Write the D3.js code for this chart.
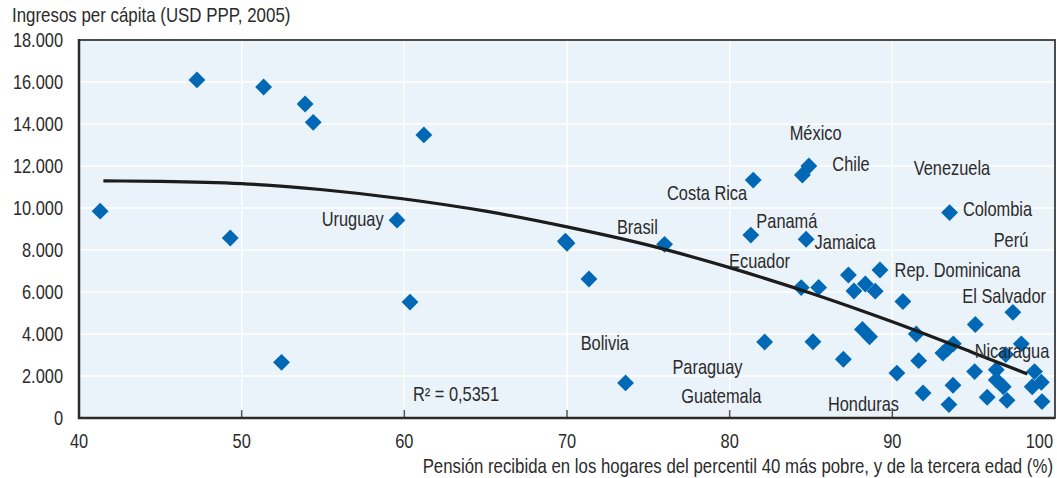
<!DOCTYPE html>
<html>
<head>
<meta charset="utf-8">
<script src="https://cdn.jsdelivr.net/npm/d3@7"></script>
<style>
  html, body { margin: 0; padding: 0; background: #ffffff; }
  svg { display: block; }
  text { font-family: "Liberation Sans", Arial, sans-serif; font-size: 20px; fill: #2b2b2b; }
</style>
</head>
<body>
<svg id="chart" width="1057" height="478"></svg>
<script>
// pension coverage (%) vs income per capita (USD PPP 2005)
var pension = [41.3, 47.25, 49.3, 51.35, 52.45, 53.9, 54.4, 59.55, 60.35, 61.2,
  69.9, 70.0, 71.35, 73.6, 76.0, 81.45, 81.3, 82.15, 84.47, 84.87,
  84.7, 93.52, 89.24, 87.3, 84.4, 85.47, 87.64, 88.34, 88.95, 90.65,
  97.41, 95.1, 88.16, 88.6, 91.47, 85.12, 86.99, 91.62, 90.28, 93.11,
  93.4, 93.75, 97.93, 96.97, 98.74, 96.39, 95.06, 96.39, 96.82, 98.6,
  99.16, 93.73, 91.89, 95.83, 97.05, 93.48, 99.2];
var income = [9850, 16100, 8570, 15760, 2650, 14950, 14080, 9420, 5520, 13480,
  8420, 8320, 6620, 1670, 8270, 11330, 8710, 3620, 11570, 12000,
  8510, 9780, 7050, 6810, 6210, 6220, 6050, 6380, 6040, 5550,
  5030, 4450, 4220, 3870, 4000, 3630, 2800, 2730, 2140, 3090,
  3300, 3530, 3530, 3020, 2210, 2300, 2210, 1810, 1490, 1490,
  1700, 1560, 1190, 990, 840, 640, 780];

// trend line
var trendX = [41.5, 45, 50, 55, 60, 65, 70, 75, 80, 85, 90, 95, 98.3];
var trendY = [11290, 11270, 11160, 10870, 10430, 9850, 9100, 8230, 7160, 5940, 4580, 3100, 2100];

// country labels, anchored in data units (left edge, middle)
var labelNames = ["Uruguay", "Brasil", "Costa Rica", "México", "Chile", "Venezuela", "Colombia",
  "Panamá", "Jamaica", "Perú", "Ecuador", "Rep. Dominicana", "El Salvador", "Nicaragua",
  "Honduras", "Guatemala", "Paraguay", "Bolivia", "R² = 0,5351"];
var labelX = [54.92, 73.07, 76.15, 83.69, 86.31, 91.31, 94.34, 81.64, 85.22, 96.23,
  79.96, 90.14, 94.30, 95.06, 86.04, 77.03, 76.48, 70.84, 60.53];
var labelY = [9476, 9110, 10700, 13557, 12081, 11919, 9938, 9395, 8367, 8476,
  7491, 7048, 5810, 3190, 652, 1048, 2443, 3586, 1129];

var xTicks = [40, 50, 60, 70, 80, 90, 100];
var yTicks = [0, 2000, 4000, 6000, 8000, 10000, 12000, 14000, 16000, 18000];

var yTitle = "Ingresos per cápita (USD PPP, 2005)";
var xTitle = "Pensión recibida en los hogares del percentil 40 más pobre, y de la tercera edad (%)";

var svg = d3.select("#chart");
var mLeft = 79, mRight = 1055, mTop = 40, mBottom = 418;
var narrow = 0.82; // condensed look

var x = d3.scaleLinear().domain([40, 100]).range([mLeft, mRight]);
var y = d3.scaleLinear().domain([0, 18000]).range([mBottom, mTop]);
var fmt = d3.formatLocale({ decimal: ",", thousands: ".", grouping: [3], currency: ["", ""] }).format(",");

function place(xf, yf) {
  return (d, i) => `translate(${xf(d, i)},${yf(d, i)}) scale(${narrow},1)`;
}

svg.append("rect")
  .attr("x", mLeft).attr("y", mTop)
  .attr("width", mRight - mLeft).attr("height", mBottom - mTop)
  .attr("fill", "#eaf2fa");

// grid
svg.append("g").selectAll("line")
  .data(yTicks.slice(1, -1))
  .join("line")
  .attr("x1", mLeft).attr("x2", mRight)
  .attr("y1", d => y(d)).attr("y2", d => y(d))
  .attr("stroke", "#ffffff").attr("stroke-width", 1.5);
svg.append("g").selectAll("line")
  .data(xTicks.slice(1, -1))
  .join("line")
  .attr("y1", mTop).attr("y2", mBottom)
  .attr("x1", d => x(d)).attr("x2", d => x(d))
  .attr("stroke", "#ffffff").attr("stroke-width", 1.5);

// inner ticks on bottom axis
svg.append("g").selectAll("line")
  .data(xTicks.slice(1, -1))
  .join("line")
  .attr("x1", d => x(d)).attr("x2", d => x(d))
  .attr("y1", mBottom).attr("y2", mBottom - 8)
  .attr("stroke", "#555555").attr("stroke-width", 1.5);

// frame
svg.append("rect")
  .attr("x", mLeft).attr("y", mTop)
  .attr("width", mRight - mLeft).attr("height", mBottom - mTop)
  .attr("fill", "none").attr("stroke", "#3a3a3a").attr("stroke-width", 1.8);
svg.append("line")
  .attr("x1", mLeft).attr("x2", mLeft).attr("y1", mTop - 1).attr("y2", mBottom + 1)
  .attr("stroke", "#2b2b2b").attr("stroke-width", 2.5);
svg.append("line")
  .attr("x1", mLeft - 1).attr("x2", mRight).attr("y1", mBottom).attr("y2", mBottom)
  .attr("stroke", "#2b2b2b").attr("stroke-width", 2.5);

// tick labels
svg.append("g").selectAll("text")
  .data(yTicks)
  .join("text")
  .attr("transform", place(() => 63, d => y(d) + 7))
  .attr("text-anchor", "end")
  .text(d => fmt(d));
// last x label is pulled inside the picture, as in the original
svg.append("g").selectAll("text")
  .data(xTicks)
  .join("text")
  .attr("transform", place(d => d === 100 ? 1053 : x(d), () => 448))
  .attr("text-anchor", d => d === 100 ? "end" : "middle")
  .text(d => d);

svg.append("text")
  .attr("transform", `translate(12,22) scale(${narrow},1)`)
  .style("font-size", "20.6px")
  .text(yTitle);
svg.append("text")
  .attr("transform", `translate(1053,473) scale(${narrow},1)`)
  .attr("text-anchor", "end")
  .style("font-size", "20.5px")
  .text(xTitle);

// points
var pts = pension.map((p, i) => ({ px: p, inc: income[i] }));
svg.append("g").selectAll("path")
  .data(pts)
  .join("path")
  .attr("d", d3.symbol().type(d3.symbolSquare).size(142))
  .attr("transform", d => `translate(${x(d.px)},${y(d.inc)}) rotate(45)`)
  .attr("fill", "#0068b5");

// trend
var line = d3.line()
  .x((d, i) => x(trendX[i]))
  .y(d => y(d))
  .curve(d3.curveMonotoneX);
svg.append("path")
  .attr("d", line(trendY))
  .attr("fill", "none")
  .attr("stroke", "#1c1c1c")
  .attr("stroke-width", 3.2);

// labels
svg.append("g").selectAll("text")
  .data(labelNames)
  .join("text")
  .attr("transform", place((d, i) => x(labelX[i]), (d, i) => y(labelY[i]) + 7))
  .text(d => d);
</script>
</body>
</html>
